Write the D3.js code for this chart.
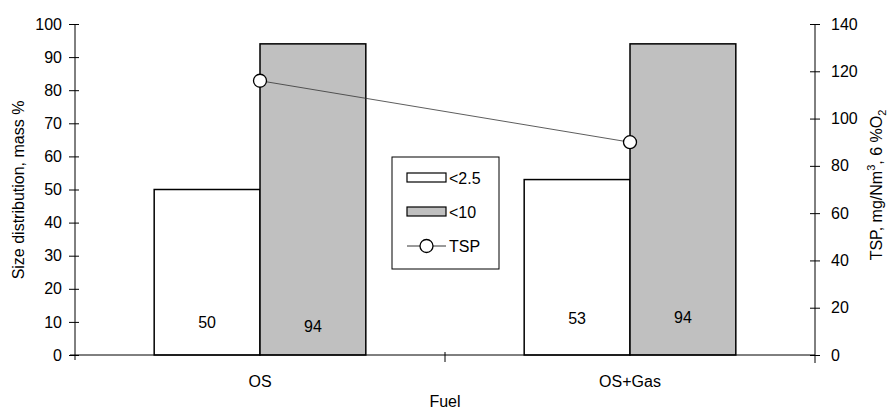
<!DOCTYPE html>
<html><head><meta charset="utf-8">
<script src="https://cdn.jsdelivr.net/npm/d3@7"></script>
<style>body{margin:0;background:#fff}svg{display:block;font-family:"Liberation Sans",Arial,sans-serif}</style>
</head><body><svg id="c" width="887" height="412"></svg>
<script>
const categories = ["OS", "OS+Gas"];
const seriesNames = ["<2.5", "<10"];
const fine = [50, 53];
const coarse = [94, 94];
const tsp = [116, 90];
const leftTicks = [0,10,20,30,40,50,60,70,80,90,100];
const rightTicks = [0,20,40,60,80,100,120,140];

const FS = 16;
const svg = d3.select("#c");
const L = 75, R = 815, T = 24, B = 355;
const x = d3.scaleBand().domain(categories).range([L, R]);
const yL = d3.scaleLinear().domain([0,100]).range([B, T]);
const yR = d3.scaleLinear().domain([0,140]).range([B, T]);
const barW = x.bandwidth() * 0.286;
const fills = ["#ffffff", "#c0c0c0"];
const data = [fine, coarse];
const labelBase = [[328, 324], [332, 323]];

// bars
data.forEach((vals, s) => {
  svg.selectAll(null).data(categories).enter().append("rect")
    .attr("x", d => x(d) + x.bandwidth()/2 + (s === 0 ? -barW : 0))
    .attr("y", (d,i) => yL(vals[i]))
    .attr("width", barW)
    .attr("height", (d,i) => B - yL(vals[i]))
    .attr("fill", fills[s]).attr("stroke", "#000").attr("stroke-width", 1.5);
  svg.selectAll(null).data(categories).enter().append("text")
    .attr("x", d => x(d) + x.bandwidth()/2 + (s === 0 ? -barW/2 : barW/2))
    .attr("y", (d,i) => labelBase[s][i])
    .attr("text-anchor", "middle").attr("font-size", FS).attr("fill", "#000")
    .text((d,i) => vals[i]);
});

// axes
const axL = d3.axisLeft(yL).tickValues(leftTicks).tickSize(0).tickPadding(13);
const gL = svg.append("g").attr("transform", `translate(${L},0)`).call(axL);
const axR = d3.axisRight(yR).tickValues(rightTicks).tickSize(0).tickPadding(16);
const gR = svg.append("g").attr("transform", `translate(${R},0)`).call(axR);
[gL, gR].forEach(g => {
  g.select(".domain").remove();
  g.selectAll("text").attr("font-size", FS).attr("font-family", "Liberation Sans, Arial, sans-serif").attr("fill", "#000");
});
gL.selectAll(".tick").append("line").attr("x1", -6).attr("x2", 4).attr("stroke", "#000");
gR.selectAll(".tick").append("line").attr("x1", -5).attr("x2", 5).attr("stroke", "#000");
svg.append("line").attr("x1", L).attr("x2", L).attr("y1", T).attr("y2", B+5).attr("stroke", "#000");
svg.append("line").attr("x1", R).attr("x2", R).attr("y1", T).attr("y2", B+8).attr("stroke", "#000");
svg.append("line").attr("x1", L-5).attr("x2", R).attr("y1", B).attr("y2", B).attr("stroke", "#000");
// category separator tick
const mid = (x(categories[0]) + x.bandwidth() + x(categories[1])) / 2;
svg.append("line").attr("x1", mid).attr("x2", mid).attr("y1", B-3).attr("y2", B+7).attr("stroke", "#000");
// category labels
svg.selectAll(null).data(categories).enter().append("text")
  .attr("x", d => x(d) + x.bandwidth()/2).attr("y", 387)
  .attr("text-anchor", "middle").attr("font-size", FS).text(d => d);
svg.append("text").attr("x", mid).attr("y", 407).attr("text-anchor", "middle").attr("font-size", FS).text("Fuel");

// axis titles
svg.append("text").attr("transform", "translate(24,190) rotate(-90)")
  .attr("text-anchor", "middle").attr("font-size", FS).text("Size distribution, mass %");
const rt = svg.append("text").attr("transform", "translate(882,185) rotate(-90)")
  .attr("text-anchor", "middle").attr("font-size", FS);
rt.append("tspan").text("TSP, mg/Nm");
rt.append("tspan").attr("dy", -7).attr("font-size", 11).text("3");
rt.append("tspan").attr("dy", 7).text(", 6 %O");
rt.append("tspan").attr("dy", 4).attr("font-size", 11).text("2");

// TSP line
const cx = d => x(d) + x.bandwidth()/2;
svg.append("path").datum(categories)
  .attr("d", d3.line().x(cx).y((d,i) => yR(tsp[i])))
  .attr("fill", "none").attr("stroke", "#333").attr("stroke-width", 0.8);
svg.selectAll(null).data(categories).enter().append("circle")
  .attr("cx", cx).attr("cy", (d,i) => yR(tsp[i])).attr("r", 6.5)
  .attr("fill", "#fff").attr("stroke", "#000").attr("stroke-width", 1.3);

// legend
const lg = svg.append("g");
lg.append("rect").attr("x", 392).attr("y", 157).attr("width", 107).attr("height", 112)
  .attr("fill", "#fff").attr("stroke", "#000").attr("stroke-width", 1);
const rows = [178, 212, 246];
seriesNames.forEach((n, i) => {
  lg.append("rect").attr("x", 407).attr("y", rows[i]-5).attr("width", 39).attr("height", 9)
    .attr("fill", fills[i]).attr("stroke", "#000").attr("stroke-width", 1.2);
  lg.append("text").attr("x", 449).attr("y", rows[i]+6).attr("font-size", FS).text(n);
});
lg.append("line").attr("x1", 407).attr("x2", 446).attr("y1", rows[2]).attr("y2", rows[2]).attr("stroke", "#000").attr("stroke-width", 0.8);
lg.append("circle").attr("cx", 426.5).attr("cy", rows[2]).attr("r", 6.5).attr("fill", "#fff").attr("stroke", "#000").attr("stroke-width", 1.3);
lg.append("text").attr("x", 449).attr("y", rows[2]+6).attr("font-size", FS).text("TSP");
</script></body></html>
